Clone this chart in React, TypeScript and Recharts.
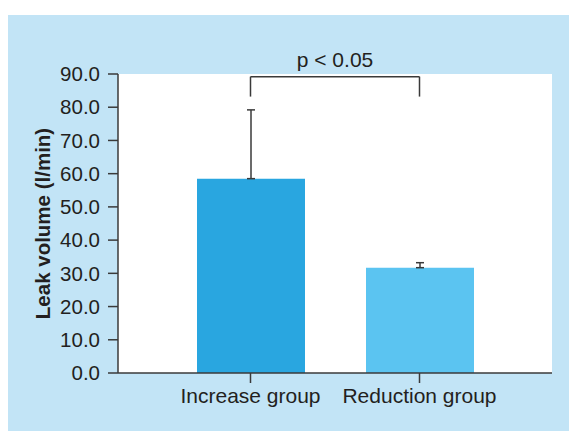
import React from 'react';
import { ComposedChart, Bar, Cell, XAxis, YAxis, CartesianGrid, ErrorBar, ReferenceLine } from 'recharts';

const categories = ['Increase group', 'Reduction group'];
const leakVolume = [58.5, 31.7];
const errorUpper = [20.7, 1.5];
const barColors = ['#29a6e0', '#5bc4f1'];
const yTicks = [0, 10, 20, 30, 40, 50, 60, 70, 80, 90];
const bracketBase = 83.2;
const bracketTop = 89.2;
const significance = 'p < 0.05';

const data = categories.map((name, i) => ({
  name,
  value: leakVolume[i],
  err: [0, errorUpper[i]],
}));

const FONT = '"Liberation Sans", Arial, Helvetica, sans-serif';
const TEXT = '#231f20';
const AXIS = '#3a3a3a';

export default function App() {
  return (
    <div
      style={{
        position: 'absolute',
        left: 8,
        top: 15,
        width: 561,
        height: 416,
        background: '#c2e4f6',
        fontFamily: FONT,
      }}
    >
      <ComposedChart
        width={561}
        height={416}
        data={data}
        margin={{ top: 59, right: 17, bottom: 28, left: 0 }}
      >
        <CartesianGrid fill="#ffffff" stroke="none" horizontal={false} vertical={false} />
        <XAxis
          dataKey="name"
          padding={{ left: 48, right: 48 }}
          stroke={AXIS}
          tickSize={10}
          tickMargin={5}
          tick={{ fill: TEXT, fontSize: 21, fontFamily: FONT }}
          axisLine={{ stroke: AXIS, strokeWidth: 1.5 }}
          tickLine={{ stroke: AXIS, strokeWidth: 1.5 }}
        />
        <YAxis
          width={110}
          domain={[0, 90]}
          ticks={yTicks}
          interval={0}
          tickFormatter={(v: number) => v.toFixed(1)}
          tickSize={10}
          tickMargin={8}
          tick={{ fill: TEXT, fontSize: 20.5, fontFamily: FONT }}
          axisLine={{ stroke: AXIS, strokeWidth: 1.5 }}
          tickLine={{ stroke: AXIS, strokeWidth: 1.5 }}
          label={{
            value: 'Leak volume (l/min)',
            angle: -90,
            position: 'insideLeft',
            offset: 35,
            style: { textAnchor: 'middle', fill: TEXT, fontSize: 20.5, fontWeight: 'bold', fontFamily: FONT },
          }}
        />
        <Bar dataKey="value" barSize={108} isAnimationActive={false}>
          {data.map((d, i) => (
            <Cell key={d.name} fill={barColors[i]} />
          ))}
          <ErrorBar dataKey="err" width={4} stroke={AXIS} strokeWidth={1.5} direction="y" />
        </Bar>
        <ReferenceLine
          segment={[
            { x: categories[0], y: bracketBase },
            { x: categories[0], y: bracketTop },
          ]}
          stroke={AXIS}
          strokeWidth={1.5}
          ifOverflow="visible"
        />
        <ReferenceLine
          segment={[
            { x: categories[0], y: bracketTop },
            { x: categories[1], y: bracketTop },
          ]}
          stroke={AXIS}
          strokeWidth={1.5}
          ifOverflow="visible"
          label={{ value: significance, position: 'top', offset: 10, fill: TEXT, fontSize: 21, fontFamily: FONT }}
        />
        <ReferenceLine
          segment={[
            { x: categories[1], y: bracketBase },
            { x: categories[1], y: bracketTop },
          ]}
          stroke={AXIS}
          strokeWidth={1.5}
          ifOverflow="visible"
        />
      </ComposedChart>
    </div>
  );
}
